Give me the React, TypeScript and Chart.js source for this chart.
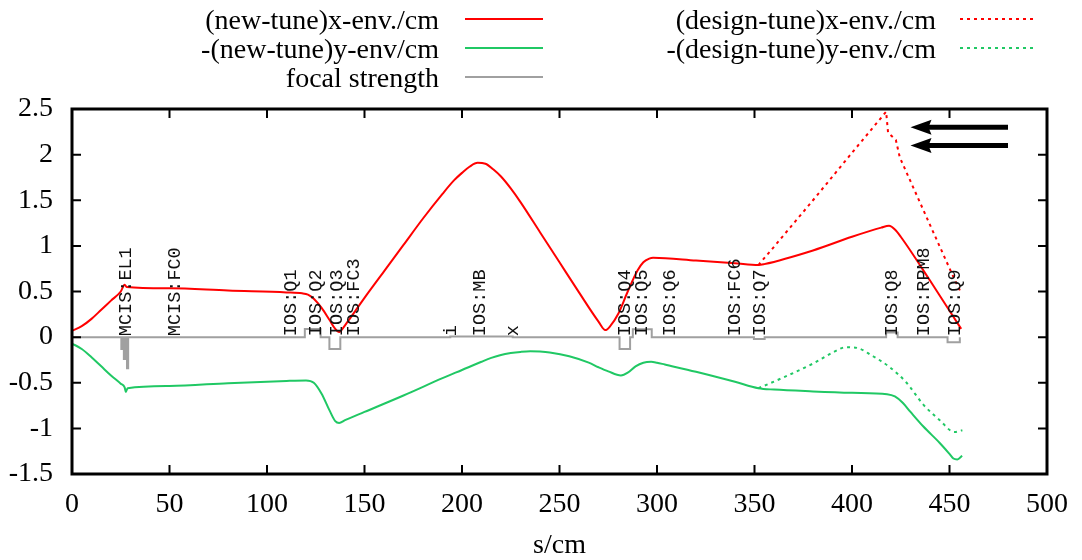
import React, { useEffect, useRef } from 'react';
import { Chart, registerables } from 'chart.js';

Chart.register(...registerables);

// ---- data ----
const sNewX = [0, 5, 10, 15, 20, 25, 27, 28, 50, 80, 110, 118, 121, 124, 128, 132, 135, 137, 140, 150, 160, 170, 180, 190, 196, 200, 204, 208, 212, 216, 220, 225, 230, 240, 250, 260, 270, 273.5, 276, 280, 285, 290, 293, 296, 298, 320, 340, 352, 355, 380, 400, 415, 419, 422, 425, 440, 456];
const xEnvNew = [0.07, 0.12, 0.2, 0.3, 0.4, 0.5, 0.575, 0.55, 0.535, 0.51, 0.49, 0.48, 0.465, 0.42, 0.32, 0.19, 0.09, 0.055, 0.13, 0.43, 0.72, 1.01, 1.3, 1.57, 1.72, 1.8, 1.87, 1.91, 1.9, 1.84, 1.76, 1.63, 1.48, 1.15, 0.82, 0.49, 0.17, 0.077, 0.12, 0.25, 0.5, 0.73, 0.82, 0.86, 0.87, 0.84, 0.81, 0.79, 0.8, 0.95, 1.1, 1.2, 1.22, 1.18, 1.1, 0.62, 0.09];

const sNewY = [0, 5, 10, 15, 20, 25, 27, 27.6, 28.5, 50, 80, 110, 120, 124, 128, 132, 135, 137, 140, 150, 170, 190, 200, 210, 215, 220, 225, 230, 235, 240, 245, 255, 265, 270, 275, 281.5, 285, 289, 293, 297, 300, 304, 320, 340, 352, 360, 380, 400, 418, 422, 426, 430, 436.6, 445, 450, 452, 454, 456.5];
const yEnvNew = [-0.07, -0.13, -0.22, -0.32, -0.42, -0.51, -0.55, -0.6, -0.56, -0.535, -0.505, -0.48, -0.475, -0.5, -0.62, -0.8, -0.92, -0.94, -0.91, -0.82, -0.64, -0.45, -0.36, -0.27, -0.228, -0.195, -0.175, -0.162, -0.155, -0.158, -0.168, -0.21, -0.28, -0.33, -0.375, -0.42, -0.39, -0.32, -0.28, -0.27, -0.28, -0.3, -0.38, -0.49, -0.56, -0.575, -0.595, -0.61, -0.625, -0.65, -0.72, -0.82, -0.98, -1.16, -1.28, -1.33, -1.34, -1.3];

const sDesX = [352, 360, 380, 400, 417.5, 418.5, 422.5, 424.5, 440, 452, 455.6];
const xEnvDes = [0.79, 0.99, 1.5, 2.02, 2.47, 2.24, 2.16, 1.97, 1.23, 0.66, 0.5];

const sDesY = [352, 365, 380, 390, 397, 403, 410, 419.4, 428, 436.6, 445, 452.5, 456.6];
const yEnvDes = [-0.56, -0.44, -0.29, -0.17, -0.11, -0.12, -0.2, -0.33, -0.5, -0.74, -0.91, -1.04, -1.02];

const sFocal = [0, 25.3, 25.3, 25.8, 25.8, 26.6, 26.6, 27.2, 27.2, 28.2, 28.2, 28.8, 28.8, 119.4, 119.4, 127.5, 127.5, 132, 132, 137.6, 137.6, 194, 194, 226, 226, 280.8, 280.8, 286.2, 286.2, 287.6, 287.6, 297.3, 297.3, 349.7, 349.7, 355.2, 355.2, 417.5, 417.5, 423.4, 423.4, 449, 449, 455.3, 455.3];
const focal = [0, 0, -0.13, -0.13, 0, 0, -0.24, -0.24, 0, 0, -0.34, -0.34, 0, 0, 0.09, 0.09, 0, 0, -0.13, -0.13, 0, 0, 0.008, 0.008, 0, 0, -0.13, -0.13, 0, 0, 0.085, 0.085, 0, 0, -0.02, -0.02, 0, 0, 0.05, 0.05, 0, 0, -0.055, -0.055, 0];

const elementNames = ['MCIS:EL1', 'MCIS:FC0', 'IOS:Q1', 'IOS:Q2', 'IOS:Q3', 'IOS:FC3', 'i', 'IOS:MB', 'x', 'IOS:Q4', 'IOS:Q5', 'IOS:Q6', 'IOS:FC6', 'IOS:Q7', 'IOS:Q8', 'IOS:RPM8', 'IOS:Q9'];
const elementPos = [27.8, 52.9, 112.6, 125, 135.9, 144.5, 194.6, 209.4, 226, 283.7, 292.6, 306.7, 339.9, 352.7, 420.8, 436.9, 452.8];

const arrowFromS = 480;
const arrowToS = 430;
const arrowLevels = [2.3, 2.1];

const seriesLabels = ['(new-tune)x-env./cm', '-(new-tune)y-env/cm', 'focal strength', '(design-tune)x-env./cm', '-(design-tune)y-env./cm'];

const xTickMin = 0, xTickMax = 500, xTickStep = 50;
const yTickMin = -1.5, yTickMax = 2.5, yTickStep = 0.5;

const pts = (xs: number[], ys: number[]) => xs.map((x, i) => ({ x, y: ys[i] }));

const SERIF = '"Liberation Serif", "Times New Roman", serif';
const MONO = '"Courier New", "Liberation Mono", monospace';

const overlay = {
  id: 'overlay',
  afterDatasetsDraw(chart: any) {
    const { ctx, scales } = chart;
    const xs = scales.x, ys = scales.y;
    const y0 = ys.getPixelForValue(0);
    // element labels
    ctx.save();
    ctx.fillStyle = '#111';
    ctx.font = `18.5px ${MONO}`;
    ctx.textAlign = 'left';
    ctx.textBaseline = 'middle';
    elementNames.forEach((name, i) => {
      const px = xs.getPixelForValue(elementPos[i]);
      ctx.save();
      ctx.translate(px, y0 - 1);
      ctx.rotate(-Math.PI / 2);
      ctx.fillText(name, 0, 0);
      ctx.restore();
    });
    ctx.restore();
    // arrows
    ctx.save();
    ctx.strokeStyle = '#000';
    ctx.fillStyle = '#000';
    ctx.lineWidth = 5;
    ctx.lineCap = 'butt';
    arrowLevels.forEach((lv) => {
      const py = ys.getPixelForValue(lv);
      const x1 = xs.getPixelForValue(arrowFromS);
      const x2 = xs.getPixelForValue(arrowToS);
      const head = 21;
      ctx.beginPath();
      ctx.moveTo(x1, py);
      ctx.lineTo(x2 + head - 4, py);
      ctx.stroke();
      ctx.beginPath();
      ctx.moveTo(x2, py);
      ctx.lineTo(x2 + head, py - 7.5);
      ctx.lineTo(x2 + head - 3, py);
      ctx.lineTo(x2 + head, py + 7.5);
      ctx.closePath();
      ctx.fill();
    });
    ctx.restore();
  },
  afterDraw(chart: any) {
    const { ctx, chartArea: a, scales } = chart;
    const xs = scales.x, ys = scales.y;
    ctx.save();
    // inward ticks
    ctx.strokeStyle = '#000';
    ctx.lineWidth = 2;
    const tl = 9;
    ctx.beginPath();
    xs.ticks.forEach((t: any) => {
      const px = xs.getPixelForValue(t.value);
      ctx.moveTo(px, a.bottom);
      ctx.lineTo(px, a.bottom - tl);
      ctx.moveTo(px, a.top);
      ctx.lineTo(px, a.top + tl);
    });
    ys.ticks.forEach((t: any) => {
      const py = ys.getPixelForValue(t.value);
      ctx.moveTo(a.left, py);
      ctx.lineTo(a.left + tl, py);
      ctx.moveTo(a.right, py);
      ctx.lineTo(a.right - tl, py);
    });
    ctx.stroke();
    // frame
    ctx.lineWidth = 3;
    ctx.strokeRect(a.left, a.top, a.right - a.left, a.bottom - a.top);
    // legend
    const cols = [
      { right: 439, x1: 465, x2: 543, items: [0, 1, 2] },
      { right: 936, x1: 960, x2: 1037, items: [3, 4] },
    ];
    const rowBase = [29, 58, 87];
    ctx.font = `28px ${SERIF}`;
    ctx.fillStyle = '#000';
    ctx.textAlign = 'right';
    ctx.textBaseline = 'alphabetic';
    cols.forEach((c) => {
      c.items.forEach((di, r) => {
        const ds = chart.data.datasets[di];
        ctx.fillText(ds.label, c.right, rowBase[r]);
        ctx.save();
        ctx.strokeStyle = ds.borderColor;
        ctx.lineWidth = ds.borderWidth;
        ctx.setLineDash(ds.borderDash || []);
        ctx.beginPath();
        ctx.moveTo(c.x1, rowBase[r] - 10);
        ctx.lineTo(c.x2, rowBase[r] - 10);
        ctx.stroke();
        ctx.restore();
      });
    });
    ctx.restore();
  },
};

export default function App() {
  const ref = useRef<HTMLCanvasElement>(null);
  useEffect(() => {
    if (!ref.current) return;
    const RED = '#ff0000';
    const GREEN = '#20c864';
    const GRAY = '#a0a0a0';
    const chart = new Chart(ref.current, {
      type: 'line',
      data: {
        datasets: [
          { label: seriesLabels[0], data: pts(sNewX, xEnvNew), borderColor: RED, borderWidth: 2, pointRadius: 0, cubicInterpolationMode: 'monotone', fill: false, order: 1 },
          { label: seriesLabels[1], data: pts(sNewY, yEnvNew), borderColor: GREEN, borderWidth: 2, pointRadius: 0, cubicInterpolationMode: 'monotone', fill: false, order: 2 },
          { label: seriesLabels[2], data: pts(sFocal, focal), borderColor: GRAY, borderWidth: 2, pointRadius: 0, tension: 0, fill: false, order: 3 },
          { label: seriesLabels[3], data: pts(sDesX, xEnvDes), borderColor: RED, borderWidth: 2, borderDash: [3, 4], pointRadius: 0, tension: 0, fill: false, order: 4 },
          { label: seriesLabels[4], data: pts(sDesY, yEnvDes), borderColor: GREEN, borderWidth: 2, borderDash: [3, 4], pointRadius: 0, cubicInterpolationMode: 'monotone', fill: false, order: 5 },
        ] as any,
      },
      options: {
        animation: false,
        responsive: false,
        maintainAspectRatio: false,
        layout: { padding: { left: 0, right: 31, top: 109, bottom: 0 } },
        plugins: { legend: { display: false }, tooltip: { enabled: false } },
        scales: {
          x: {
            type: 'linear',
            min: xTickMin,
            max: xTickMax,
            ticks: { stepSize: xTickStep, color: '#000', font: { family: SERIF, size: 28 }, padding: 14, maxRotation: 0, autoSkip: false, callback: (v: any) => String(v) },
            grid: { display: false, drawTicks: false },
            border: { display: false },
            title: { display: true, text: 's/cm', color: '#000', font: { family: SERIF, size: 28, lineHeight: 1 }, padding: 0 },
            afterFit: (s: any) => { s.height = 86; },
          },
          y: {
            type: 'linear',
            min: yTickMin,
            max: yTickMax,
            ticks: { stepSize: yTickStep, color: '#000', font: { family: SERIF, size: 28 }, padding: 19, autoSkip: false, callback: (v: any) => String(Math.round(v * 10) / 10) },
            grid: { display: false, drawTicks: false },
            border: { display: false },
            afterFit: (s: any) => { s.width = 72; },
          },
        },
      } as any,
      plugins: [overlay],
    });
    return () => chart.destroy();
  }, []);
  return (
    <canvas
      ref={ref}
      width={1082}
      height={560}
      style={{ position: 'absolute', left: 0, top: 0, width: 1082, height: 560, display: 'block' }}
    />
  );
}
